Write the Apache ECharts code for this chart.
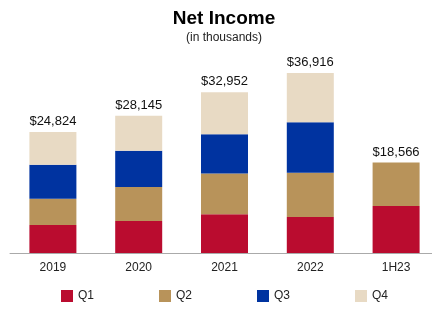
<!DOCTYPE html>
<html>
<head>
<meta charset="utf-8">
<title>Net Income</title>
<script src="https://cdn.jsdelivr.net/npm/echarts@6/dist/echarts.min.js"></script>
<style>
  html, body { margin: 0; padding: 0; background: #fff; }
  #main { width: 432px; height: 311px; }
</style>
</head>
<body>
<div id="main"></div>
<script type="text/javascript">
    // 数据（千元）
    var years = ['2019', '2020', '2021', '2022', '1H23'];
    var q1 = [5760, 6573, 7950, 7410, 9620];
    var q2 = [5348, 6985, 8360, 9055, 8946];
    var q3 = [6994, 7395, 8070, 10370, null];
    var q4 = [6722, 7192, 8572, 10081, null];
    var totals = ['$24,824', '$28,145', '$32,952', '$36,916', '$18,566'];

    var colors = ['#BA0C2F', '#B8935A', '#0033A0', '#E8DAC4'];
    var font = 'Liberation Sans, Arial, sans-serif';

    var myChart = echarts.init(document.getElementById('main'));

    function seg(name, data, color) {
        return {
            name: name,
            type: 'bar',
            stack: 'ni',
            barWidth: 47,
            itemStyle: {color: color},
            data: data
        };
    }

    var option = {
        animation: false,
        title: {
            text: 'Net Income',
            subtext: '(in thousands)',
            left: 219,
            textAlign: 'center',
            top: 4,
            itemGap: 4,
            textStyle: {fontFamily: font, fontSize: 19, fontWeight: 'bold', color: '#000'},
            subtextStyle: {fontFamily: font, fontSize: 12, color: '#222'}
        },
        legend: {
            data: ['Q1', 'Q2', 'Q3', 'Q4'],
            left: 56,
            top: 285,
            icon: 'rect',
            itemWidth: 12,
            itemHeight: 12,
            itemGap: 65,
            textStyle: {fontFamily: font, fontSize: 12, color: '#222'}
        },
        grid: {left: 10, width: 429, top: 58, bottom: 58, outerBoundsMode: 'none'},
        xAxis: {
            type: 'category',
            data: years,
            axisLine: {lineStyle: {color: '#aaa'}},
            axisTick: {show: false},
            axisLabel: {fontFamily: font, fontSize: 12, color: '#222', margin: 9}
        },
        yAxis: {
            type: 'value',
            min: 0,
            max: 40000,
            show: false,
            splitLine: {show: false}
        },
        series: [
            seg('Q1', q1, colors[0]),
            seg('Q2', q2, colors[1]),
            seg('Q3', q3, colors[2]),
            seg('Q4', q4, colors[3]),
            {
                name: 'Total',
                type: 'bar',
                stack: 'ni',
                barWidth: 47,
                data: [0, 0, 0, 0, 0],
                itemStyle: {color: 'transparent'},
                label: {
                    show: true,
                    position: 'top',
                    distance: 4,
                    fontFamily: font,
                    fontSize: 13,
                    color: '#111',
                    formatter: function (p) { return totals[p.dataIndex]; }
                }
            }
        ]
    };
    myChart.setOption(option);
</script>
</body>
</html>
